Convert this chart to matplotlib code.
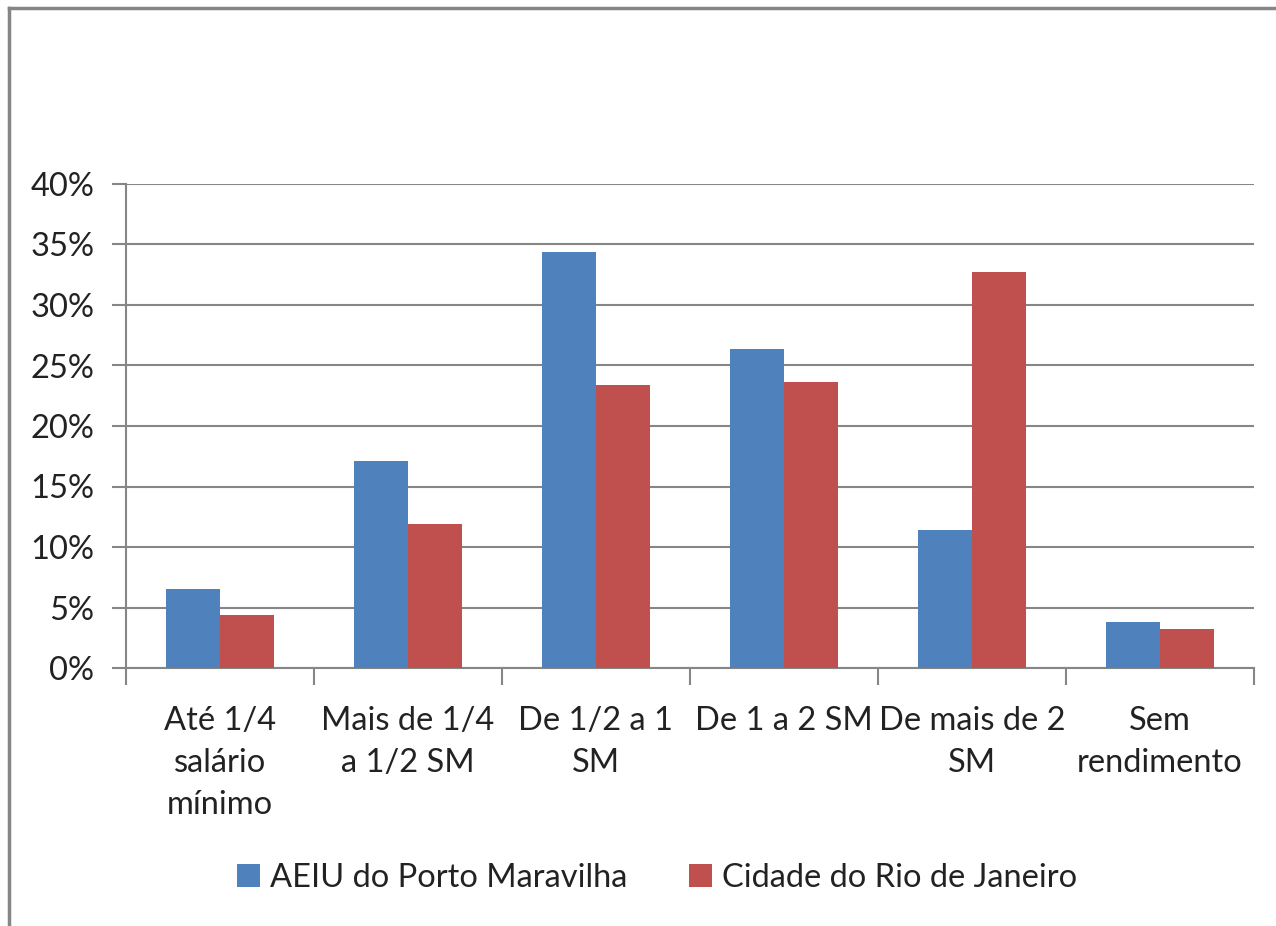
import matplotlib
matplotlib.use("Agg")
import matplotlib.pyplot as plt
from matplotlib.lines import Line2D
import numpy as np

categories = ["Até 1/4\nsalário\nmínimo", "Mais de 1/4\na 1/2 SM", "De 1/2 a 1\nSM",
              "De 1 a 2 SM", "De mais de 2\nSM", "Sem\nrendimento"]
series_names = ["AEIU do Porto Maravilha", "Cidade do Rio de Janeiro"]
aeiu = [6.5, 17.1, 34.4, 26.4, 11.4, 3.8]
rio = [4.4, 11.9, 23.4, 23.6, 32.7, 3.2]
yticks = [0, 5, 10, 15, 20, 25, 30, 35, 40]
colors = ["#4F81BD", "#C0504D"]

plt.rcParams['font.family'] = ['Lato', 'DejaVu Sans']
W, H = 1276, 926
fig = plt.figure(figsize=(W / 100, H / 100), dpi=100)
fig.patch.set_facecolor("white")

ax = fig.add_axes([126 / W, 1 - 668 / H, (1254 - 126) / W, (668 - 184) / H])
x = np.arange(len(categories))
bw = 0.285
ax.bar(x - bw / 2, aeiu, width=bw, color=colors[0], label=series_names[0], zorder=3)
ax.bar(x + bw / 2, rio, width=bw, color=colors[1], label=series_names[1], zorder=3)

fs = 23.5
ax.set_xlim(-0.5, len(categories) - 0.5)
ax.set_ylim(0, 40)
ax.set_yticks(yticks)
ax.set_yticklabels([f"{v}%" for v in yticks], fontsize=fs, color="#222222")
ax.set_xticks(x)
ax.set_xticklabels(categories, fontsize=fs, color="#222222", linespacing=1.5)
ax.set_xticks(np.arange(len(categories) + 1) - 0.5, minor=True)
ax.tick_params(axis='x', which='major', length=0, pad=27)
ax.tick_params(axis='x', which='minor', length=12, color="#868686", width=1.5)
ax.tick_params(axis='y', length=10, color="#868686", width=1.5, pad=13)
ax.yaxis.grid(True, color="#868686", linewidth=1.5, zorder=0)
for s in ["top", "right"]:
    ax.spines[s].set_visible(False)
for s in ["left", "bottom"]:
    ax.spines[s].set_color("#868686")
    ax.spines[s].set_linewidth(1.5)

leg = fig.legend(loc="center", bbox_to_anchor=(657 / W, 1 - 878 / H), ncol=2,
                 frameon=False, fontsize=fs, handlelength=0.7, handleheight=0.7,
                 columnspacing=1.9, handletextpad=0.3)
for t in leg.get_texts():
    t.set_color("#222222")

# outer chart border (top and left edges visible)
fig.add_artist(Line2D([9 / W, 9 / W], [1 - 8 / H, 0], transform=fig.transFigure,
                      color="#868686", linewidth=2.5))
fig.add_artist(Line2D([9 / W, 1], [1 - 8 / H, 1 - 8 / H], transform=fig.transFigure,
                      color="#868686", linewidth=2.5))

fig.savefig("out.png", dpi=100, facecolor="white")
